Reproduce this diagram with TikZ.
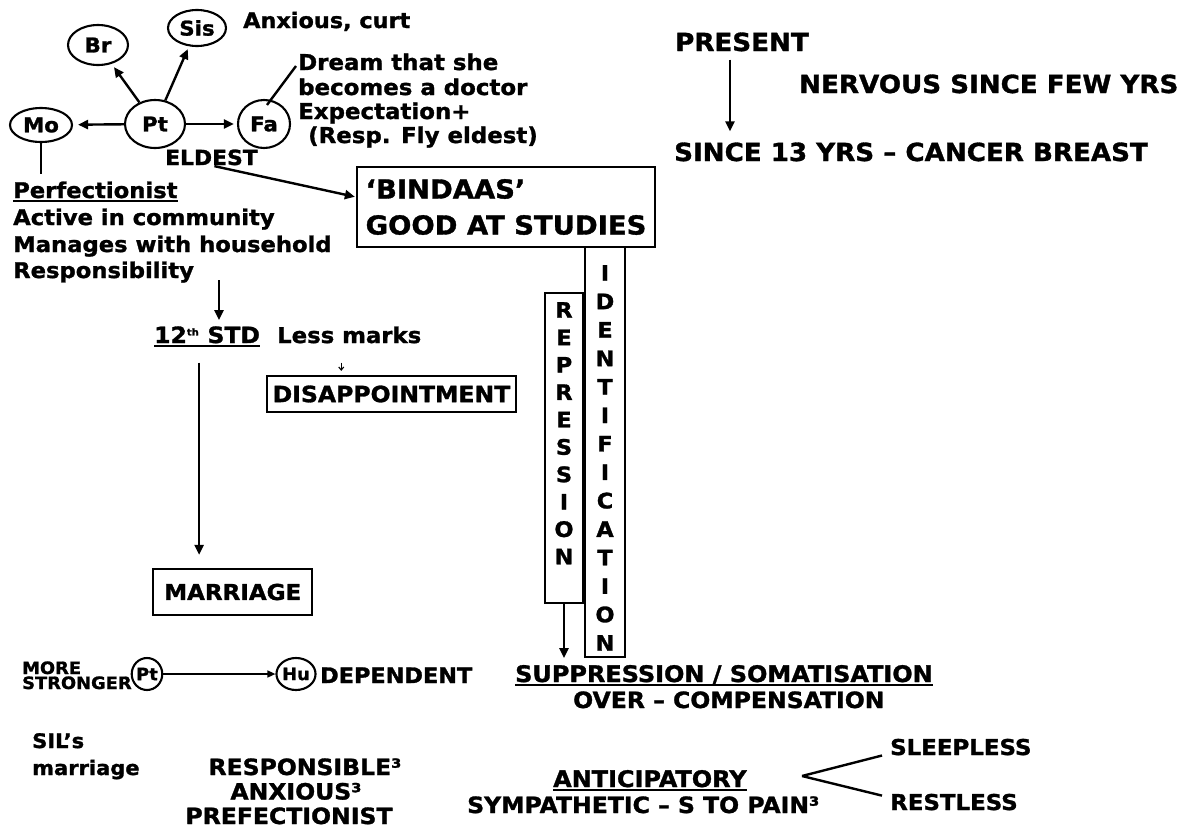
\documentclass[tikz,border=0pt]{standalone}
\usepackage{fontspec}
\setmainfont{DejaVu Sans}[FakeStretch=1.05, BoldFeatures={FakeBold=1.3}]
\usetikzlibrary{arrows.meta,shapes.geometric}
\newcommand\fsz[1]{\fontsize{#1}{#1}\selectfont\bfseries}
\begin{document}
\begin{tikzpicture}[x=1pt,y=-1pt,
  txt/.style={inner sep=0pt, anchor=base west},
  ctxt/.style={inner sep=0pt, anchor=base},
  circ/.style={ellipse, draw, line width=2.1pt, inner sep=0pt},
  boxn/.style={draw, line width=2.3pt, inner sep=0pt},
  arr/.style={line width=2.4pt, -{Triangle[length=10pt,width=9pt]}},
  thinarr/.style={line width=1.5pt, -{Triangle[length=8pt,width=7pt]}},
  tinyarr/.style={line width=1.1pt, -{Straight Barb[length=3pt,width=5pt]}},
  ln/.style={line width=2.4pt},
  ul/.style={line width=1.8pt}]
\path[fill=white] (0,0) rectangle (1194,830);
\useasboundingbox (0,0) rectangle (1194,830);

% family tree
\node[circ, minimum width=60pt, minimum height=40pt, font=\fsz{20.3}] (br) at (98,45) {Br};
\node[circ, minimum width=58pt, minimum height=36pt, font=\fsz{20.3}] (sis) at (197,28) {Sis};
\node[circ, minimum width=62pt, minimum height=34pt, font=\fsz{20.3}] (mo) at (41,125) {Mo};
\node[circ, minimum width=60pt, minimum height=48pt, font=\fsz{20.3}] (pt) at (155,124) {Pt};
\node[circ, minimum width=52pt, minimum height=48pt, font=\fsz{20.3}] (fa) at (264,124) {Fa};
\draw[arr, shorten >=5pt] (pt) -- (mo);
\draw[arr, shorten >=3pt] (pt) -- (fa);
\draw[arr, shorten >=4pt] (pt) -- (br);
\draw[arr, shorten >=3pt] (pt) -- (sis);

\node[txt, font=\fsz{21.3}] (anx) at (243,28) {Anxious, curt};
\node[txt, font=\fsz{21.8}] (dream1) at (298,70) {Dream that she};
\node[txt, font=\fsz{21.8}] (dream2) at (298,95) {becomes a doctor};
\node[txt, font=\fsz{21.8}] (dream3) at (298,119) {Expectation+};
\node[txt, font=\fsz{21.8}] (dream4) at (308,143) {(Resp. Fly eldest)};
\draw[ln] ([xshift=3pt,yshift=-6pt]fa.north) -- ([xshift=-2pt,yshift=4pt]dream1.base west);

\node[txt, font=\fsz{20.8}] (eldest) at (165,165) {ELDEST};

\node[txt, font=\fsz{21.6}] (perf) at (13,198) {Perfectionist};
\draw[ul] ([yshift=-3pt]perf.base west) -- ([yshift=-3pt]perf.base east);
\node[txt, font=\fsz{21.6}] (act) at (13,225) {Active in community};
\node[txt, font=\fsz{21.6}] (man) at (13,252) {Manages with household};
\node[txt, font=\fsz{21.6}] (resp) at (13,278) {Responsibility};
\draw[ln, shorten >=7pt] (mo.south) -- (mo.south |- perf.north);

% box BINDAAS
\node[boxn, minimum width=298pt, minimum height=80pt, align=left,
      font=\fontsize{26.1}{36}\selectfont\bfseries] (bind) at (506,207)
      {‘BINDAAS’\\GOOD AT STUDIES};
\draw[arr, shorten <=3pt, shorten >=1pt] (eldest.south) -- ([yshift=10pt]bind.west);

% present
\node[txt, font=\fsz{24.9}] (present) at (675,51) {PRESENT};
\node[txt, font=\fsz{24.9}] (nervous) at (799,93) {NERVOUS SINCE FEW YRS};
\node[txt, font=\fsz{24.9}] (since) at (674,161) {SINCE 13 YRS – CANCER BREAST};
\coordinate (presarr) at ([xshift=-12pt]present.south);
\draw[arr, shorten <=8pt, shorten >=11pt] (presarr) -- (presarr |- since.north);

% 12th std
\coordinate (rarrow) at (219,280);
\node[txt, font=\fsz{22.4}] (std) at (154,343) {12\textsuperscript{\fontsize{9.5}{9.5}\selectfont th} STD};
\draw[ul] ([yshift=-3pt]std.base west) -- ([yshift=-3pt]std.base east);
\draw[arr, shorten >=6pt] (rarrow) -- (rarrow |- std.north);
\node[txt, font=\fsz{21.7}] (less) at (277,343) {Less marks};
\node[boxn, minimum width=249pt, minimum height=36pt, font=\fsz{22.4}] (dis) at (391.5,394) {DISAPPOINTMENT};
\coordinate (lessarr) at ([xshift=-8pt]less.south);
\draw[tinyarr, shorten <=19pt, shorten >=4pt] (lessarr) -- (lessarr |- dis.north);
\node[boxn, minimum width=159pt, minimum height=46pt, font=\fsz{21.9}] (marr) at (232.75,592) {MARRIAGE};
\coordinate (stdarr) at ([xshift=-8pt]std.south);
\draw[arr, shorten <=19pt, shorten >=13pt] (stdarr) -- (stdarr |- marr.north);

% repression / identification
\node[boxn, minimum width=38pt, minimum height=310pt] (rep) at (564,448) {};
\node[boxn, minimum width=40pt, minimum height=410pt] (ident) at (605,452) {};
\node[inner sep=0pt, anchor=north, align=center, font=\fontsize{21.3}{27.4}\selectfont\bfseries] (replet) at (564,302)
  {R\\E\\P\\R\\E\\S\\S\\I\\O\\N};
\node[inner sep=0pt, anchor=north, align=center, font=\fontsize{21.3}{28.46}\selectfont\bfseries] (idlet) at (605,265)
  {I\\D\\E\\N\\T\\I\\F\\I\\C\\A\\T\\I\\O\\N};
\coordinate (repend) at (564,658);
\draw[arr] (rep.south) -- (repend);

\node[txt, font=\fsz{22.8}] (supp) at (515,682) {SUPPRESSION / SOMATISATION};
\draw[ul] ([yshift=-3pt]supp.base west) -- ([yshift=-3pt]supp.base east);
\node[txt, font=\fsz{22.4}] (over) at (573,708) {OVER – COMPENSATION};

% Pt -> Hu
\node[txt, font=\fsz{17}] (more) at (22,674) {MORE};
\node[txt, font=\fsz{17}] (stronger) at (22,689) {STRONGER};
\node[circ, minimum width=27pt, minimum height=32pt, font=\fsz{17}] (pt2) at (147,674) {Pt};
\node[circ, minimum width=37pt, minimum height=32pt, font=\fsz{17}] (hu) at (296,674) {Hu};
\draw[thinarr] (pt2) -- (hu);
\node[txt, font=\fsz{21.3}] (dep) at (320,683) {DEPENDENT};

\node[txt, font=\fsz{20}] (sil) at (32,748) {SIL’s};
\node[txt, font=\fsz{20}] (silm) at (32,775) {marriage};
\node[ctxt, font=\fsz{22.4}] (r1) at (305,775) {RESPONSIBLE³};
\node[ctxt, font=\fsz{22.4}] (r2) at (296,799.5) {ANXIOUS³};
\node[ctxt, font=\fsz{22.4}] (r3) at (289,824) {PREFECTIONIST};

% anticipatory
\node[txt, font=\fsz{22.8}] (antic) at (553,787) {ANTICIPATORY};
\draw[ul] ([yshift=-3pt]antic.base west) -- ([yshift=-3pt]antic.base east);
\node[txt, font=\fsz{22.4}] (symp) at (467,813) {SYMPATHETIC – S TO PAIN³};
\node[txt, font=\fsz{21.8}] (sleep) at (890,755) {SLEEPLESS};
\node[txt, font=\fsz{21.8}] (rest) at (890,810) {RESTLESS};
\coordinate (fork) at (802,776);
\draw[ln] (fork) -- ([xshift=-8pt]sleep.south west);
\draw[ln] (fork) -- ([xshift=-8pt,yshift=-2pt]rest.north west);
\end{tikzpicture}
\end{document}
